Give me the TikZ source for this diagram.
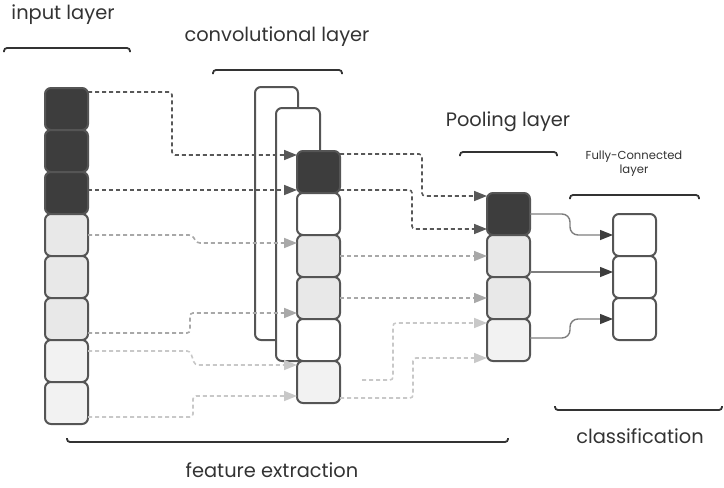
\documentclass[tikz,border=0pt]{standalone}
\usepackage{fontspec}
\setmainfont{Poppins}
\usetikzlibrary{arrows.meta}
\definecolor{CellDark}{HTML}{3D3D3D}
\definecolor{CellLight}{HTML}{E8E8E8}
\definecolor{CellPale}{HTML}{F2F2F2}
\definecolor{EdgeGray}{HTML}{555555}
\definecolor{LinkDark}{HTML}{585858}
\definecolor{LinkMid}{HTML}{A8A8A8}
\definecolor{LinkPale}{HTML}{C8C8C8}
\definecolor{LabelText}{HTML}{333333}

\tikzset{
  cell/.style={draw=EdgeGray,line width=1pt,rounded corners=3pt,
               minimum width=21.5pt,minimum height=21pt,inner sep=0pt,outer sep=0pt},
  frame/.style={cell,fill=white,minimum height=126.5pt},
  link/.style={dash pattern=on 2pt off 1.5pt,line width=0.8pt,rounded corners=1.5pt,
               -{Triangle[length=6.5pt,width=5pt]}},
  dklink/.style={link,LinkDark},
  mdlink/.style={link,LinkMid},
  ltlink/.style={link,LinkPale},
  fclink/.style={line width=0.7pt,draw=LinkMid!75!black,rounded corners=4pt,
                 -{Triangle[length=6.5pt,width=5pt,color=CellDark]}},
  brace/.style={draw=LabelText,line width=0.9pt,rounded corners=1.5pt},
  lbl/.style={text=LabelText,font=\fontsize{9.7}{11}\selectfont}
}

\begin{document}
\begin{tikzpicture}[x=0.5pt,y=-0.5pt]
\useasboundingbox (0,0) rectangle (724,488);

% feature maps behind the convolution column
\node[frame] (fm1) at (276.5,213.5) {};
\node[frame,minimum width=22pt] (fm2) at (298,234.5) {};

% layer columns
\foreach \c [count=\i] in {CellDark,CellDark,CellDark,CellLight,CellLight,CellLight,CellPale,CellPale}
  \node[cell,fill=\c] (in\i) at (66.5,{67+42*\i}) {};
\foreach \c [count=\i] in {CellDark,white,CellLight,CellLight,white,CellPale}
  \node[cell,fill=\c] (cv\i) at (318.5,{130+42*\i}) {};
\foreach \c [count=\i] in {CellDark,CellLight,CellLight,CellPale}
  \node[cell,fill=\c] (pl\i) at (508.5,{172+42*\i}) {};
\foreach \i in {1,2,3}
  \node[cell,fill=white] (fc\i) at (634.5,{193+42*\i}) {};

% input -> convolution
\draw[dklink] ([yshift=8.5pt]in1.east) -| (172,155) -- ([yshift=8.5pt]cv1.west);
\draw[dklink] ([yshift=1.5pt]in3.east) -- ([yshift=-9pt]cv1.west);
\draw[mdlink] (in4.east) -- (192,235) -- (197,243) -- ([yshift=6.5pt]cv3.west);
\draw[mdlink] ([yshift=-7pt]in6.east) -| (190,313) -- ([yshift=-7.5pt]cv4.west);
\draw[ltlink] ([yshift=5pt]in7.east) -- (190,351) -- (195,365) -- ([yshift=8.5pt]cv6.west);
\draw[ltlink] ([yshift=-7pt]in8.east) -| (193,396) -- ([yshift=-7pt]cv6.west);

% convolution -> pooling
\draw[dklink] ([yshift=9pt]cv1.east) -| (422,196) -- ([yshift=9pt]pl1.west);
\draw[dklink] ([yshift=-9pt]cv1.east) -| (412,229) -- ([yshift=-7.5pt]pl1.west);
\draw[mdlink] (cv3.east) -- (pl2.west);
\draw[mdlink] (cv4.east) -- (pl3.west);
\draw[ltlink] ([xshift=11pt,yshift=1pt]cv6.east) -| (393,323) -- ([yshift=8.5pt]pl4.west);
\draw[ltlink] ([yshift=-8pt]cv6.east) -| (413,358) -- ([yshift=-9pt]pl4.west);

% pooling -> fully connected
\draw[fclink] (pl1.east) -| (570,235) -- (fc1.west);
\draw[fclink] ([yshift=-8pt]pl2.east) -- ([yshift=2.5pt]fc2.west);
\draw[fclink] ([yshift=1pt]pl4.east) -| (570,319) -- (fc3.west);

% brackets and captions
\draw[brace] (4,52) -- (4,48) -- (130,48) -- (130,52);
\draw[brace] (213,74) -- (213,70) -- (342,70) -- (342,74);
\draw[brace] (460,156) -- (460,152) -- (557,152) -- (557,156);
\draw[brace] (570,199) -- (570,195) -- (699,195) -- (699,199);
\draw[brace] (555,406) -- (555,410) -- (722,410) -- (722,406);
\draw[brace] (67,438) -- (67,442) -- (508,442) -- (508,438);

\node[lbl] (inlbl) at (63,15) {input layer};
\node[lbl] (cvlbl) at (277,37) {convolutional layer};
\node[lbl] (pllbl) at (508,122) {Pooling layer};
\node[lbl,font=\fontsize{5.8}{7}\selectfont,align=center] (fclbl) at (634,164) {Fully-Connected\\layer};
\node[lbl] (cllbl) at (640,436) {classification};
\node[lbl] (felbl) at (272,470) {feature extraction};
\end{tikzpicture}
\end{document}
